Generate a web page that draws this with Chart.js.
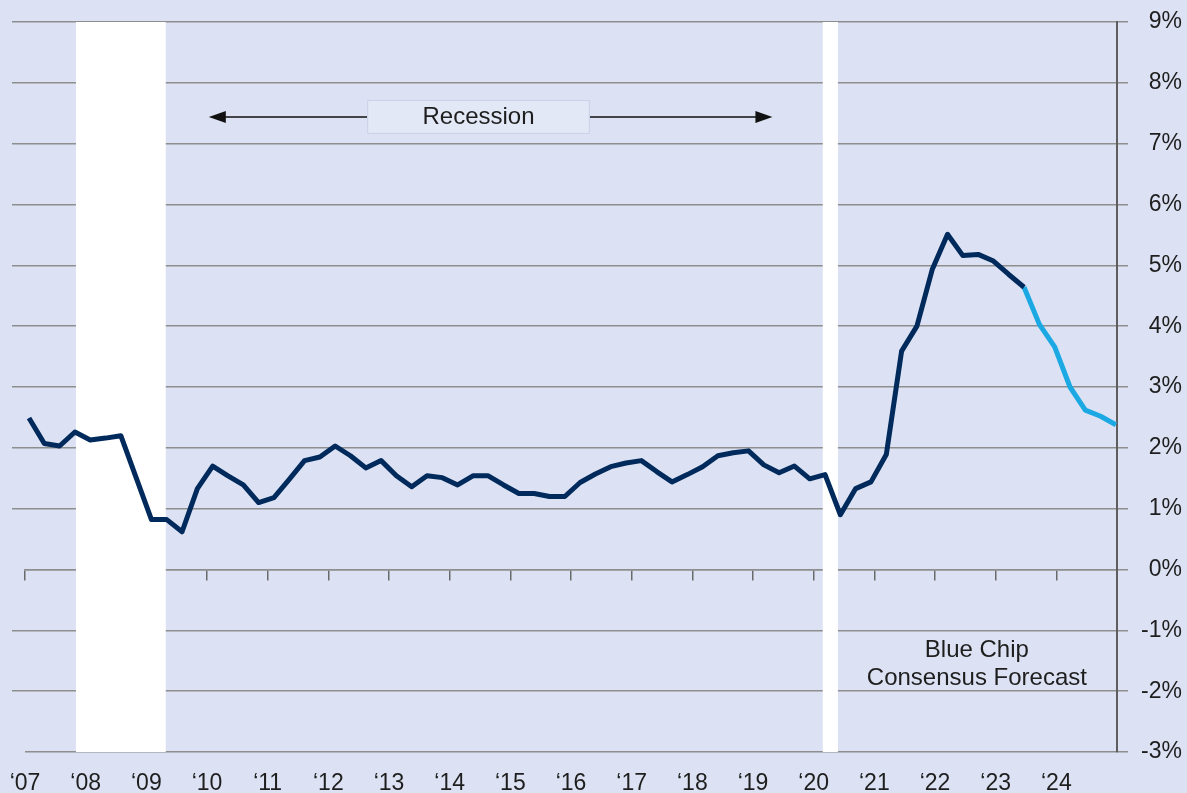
<!DOCTYPE html>
<html>
<head>
<meta charset="utf-8">
<script src="https://cdn.jsdelivr.net/npm/chart.js@4.4.1/dist/chart.umd.min.js"></script>
<style>
  html, body { margin: 0; padding: 0; background: #dce2f3; }
  #wrap { width: 1187px; height: 793px; }
</style>
</head>
<body>
<div id="wrap"><canvas id="myChart"></canvas></div>
<script>
// year tick labels, one per year from 2007
const firstYear = 2007;
const yearLabels = ["‘07", "‘08", "‘09", "‘10", "‘11", "‘12", "‘13", "‘14", "‘15",
	"‘16", "‘17", "‘18", "‘19", "‘20", "‘21", "‘22", "‘23", "‘24"];

// quarterly values, 2007 Q1 .. 2023 Q3 (%)
const actual = [
	2.49, 2.07, 2.03, 2.26, 2.13, 2.16, 2.20, 1.51, 0.82, 0.82,
	0.62, 1.33, 1.70, 1.54, 1.39, 1.10, 1.18, 1.48, 1.79, 1.85,
	2.03, 1.87, 1.67, 1.79, 1.54, 1.36, 1.54, 1.51, 1.39, 1.54,
	1.54, 1.39, 1.25, 1.25, 1.20, 1.20, 1.43, 1.57, 1.69, 1.75,
	1.79, 1.61, 1.44, 1.56, 1.69, 1.87, 1.92, 1.95, 1.72, 1.59,
	1.70, 1.49, 1.56, 0.90, 1.33, 1.44, 1.89, 3.59, 4.00, 4.93,
	5.51, 5.16, 5.18, 5.07, 4.85, 4.64
];
// Blue Chip consensus forecast, starts at the last actual quarter
const forecast = [4.64, 4.03, 3.66, 3.00, 2.62, 2.52, 2.38];
const forecastStart = actual.length - 1;

// recession periods in decimal years
const recessions = [[2007.84, 2009.32], [2020.15, 2020.40]];

const fontFamily = '"Liberation Sans", Arial, sans-serif';
const textColor = '#1e1e1e';
const gridColor = '#8e8e8e';

const bandsPlugin = {
	id: 'bands',
	beforeDatasetsDraw(chart) {
		const ctx = chart.ctx;
		const xs = chart.scales.yr;
		const ys = chart.scales.y;
		const top = ys.getPixelForValue(9);
		const bottom = ys.getPixelForValue(-3);
		ctx.save();
		ctx.fillStyle = '#ffffff';
		recessions.forEach(r => {
			const x1 = xs.getPixelForValue(r[0]);
			const x2 = xs.getPixelForValue(r[1]);
			ctx.fillRect(x1, top, x2 - x1, bottom - top);
		});
		ctx.restore();
	}
};

function arrowHead(ctx, x, y, dir) {
	ctx.beginPath();
	ctx.moveTo(x, y);
	ctx.lineTo(x - dir * 17, y - 6);
	ctx.lineTo(x - dir * 17, y + 6);
	ctx.closePath();
	ctx.fill();
}

const notesPlugin = {
	id: 'notes',
	afterDraw(chart) {
		const ctx = chart.ctx;
		const xs = chart.scales.yr;
		const ys = chart.scales.y;
		ctx.save();

		// recession label with arrows
		const bx1 = xs.getPixelForValue(2012.64);
		const bx2 = xs.getPixelForValue(2016.31);
		const by = ys.getPixelForValue(7.44);
		const lx = xs.getPixelForValue(2010.03);
		const rx = xs.getPixelForValue(2019.32);
		ctx.strokeStyle = '#111';
		ctx.fillStyle = '#111';
		ctx.lineWidth = 1.5;
		ctx.beginPath();
		ctx.moveTo(lx + 10, by);
		ctx.lineTo(bx1, by);
		ctx.moveTo(bx2, by);
		ctx.lineTo(rx - 10, by);
		ctx.stroke();
		arrowHead(ctx, lx, by, -1);
		arrowHead(ctx, rx, by, 1);

		ctx.fillStyle = '#e3e8f6';
		ctx.fillRect(bx1, by - 17, bx2 - bx1, 34);
		ctx.strokeStyle = '#c9d1e8';
		ctx.lineWidth = 1;
		ctx.strokeRect(bx1 + 0.5, by - 16.5, bx2 - bx1 - 1, 33);

		ctx.fillStyle = textColor;
		ctx.font = '24px ' + fontFamily;
		ctx.textAlign = 'center';
		ctx.textBaseline = 'middle';
		ctx.fillText('Recession', (bx1 + bx2) / 2, by);

		// forecast note
		const fx = xs.getPixelForValue(2022.69);
		ctx.fillText('Blue Chip', fx, ys.getPixelForValue(-1.33));
		ctx.fillText('Consensus Forecast', fx, ys.getPixelForValue(-1.79));
		ctx.restore();
	}
};

function createChart() {
	let ctx = document.getElementById('myChart');
	Chart.defaults.font.family = fontFamily;

	new Chart(ctx, {
		type: 'line',
		data: {
			datasets: [{
				data: actual.map((v, i) => ({ x: i, y: v })),
				borderColor: '#002a5c',
				borderWidth: 5,
				borderJoinStyle: 'round',
				pointRadius: 0,
				tension: 0
			}, {
				data: forecast.map((v, i) => ({ x: forecastStart + i, y: v })),
				borderColor: '#1ca9e3',
				borderWidth: 5,
				borderJoinStyle: 'round',
				pointRadius: 0,
				tension: 0
			}]
		},
		options: {
			responsive: true,
			maintainAspectRatio: false,
			animation: false,
			devicePixelRatio: 1,
			layout: { padding: { top: 22, right: 5, bottom: 0, left: 0 } },
			plugins: {
				legend: { display: false },
				tooltip: { enabled: false }
			},
			scales: {
				x: {
					type: 'linear',
					min: -0.26,
					max: 71.07,
					display: false
				},
				yr: {
					type: 'linear',
					axis: 'x',
					position: { y: 0 },
					min: firstYear,
					max: firstYear + yearLabels.length,
					ticks: { display: false, stepSize: 1, includeBounds: false },
					grid: { drawOnChartArea: false, drawTicks: true, tickLength: 10, color: '#6a6a6a', lineWidth: 1.5 },
					border: { display: true, color: gridColor, width: 1.5 }
				},
				yrLbl: {
					type: 'linear',
					axis: 'x',
					position: 'bottom',
					min: firstYear,
					max: firstYear + yearLabels.length,
					// invisible tick marks only give the labels their gap
					grid: { display: true, drawOnChartArea: false, drawTicks: true, tickLength: 18, tickColor: 'rgba(0,0,0,0)' },
					border: { display: false },
					ticks: {
						stepSize: 1,
						autoSkip: false,
						maxRotation: 0,
						padding: 0,
						color: textColor,
						font: { size: 23 },
						callback: v => yearLabels[v - firstYear] || ''
					},
					afterFit: s => { s.height = 41; }
				},
				y: {
					position: 'right',
					min: -3,
					max: 9,
					ticks: {
						stepSize: 1,
						crossAlign: 'far',
						color: textColor,
						font: { size: 23 },
						callback: v => v + '%'
					},
					grid: { color: gridColor, lineWidth: 1.5, tickLength: 11 },
					border: { color: '#5e5e5e', width: 2 },
					afterFit: s => { s.width = 65; }
				},
				yl: {
					position: 'left',
					min: -3,
					max: 9,
					ticks: { display: false, stepSize: 1 },
					grid: {
						drawOnChartArea: false,
						tickLength: 13,
						lineWidth: 1.5,
						tickColor: c => (c.tick && (c.tick.value === 0 || c.tick.value === -3)) ? 'rgba(0,0,0,0)' : gridColor
					},
					border: { display: false },
					afterFit: s => { s.width = 25; }
				}
			}
		},
		plugins: [bandsPlugin, notesPlugin]
	});
}

createChart();
</script>
</body>
</html>
